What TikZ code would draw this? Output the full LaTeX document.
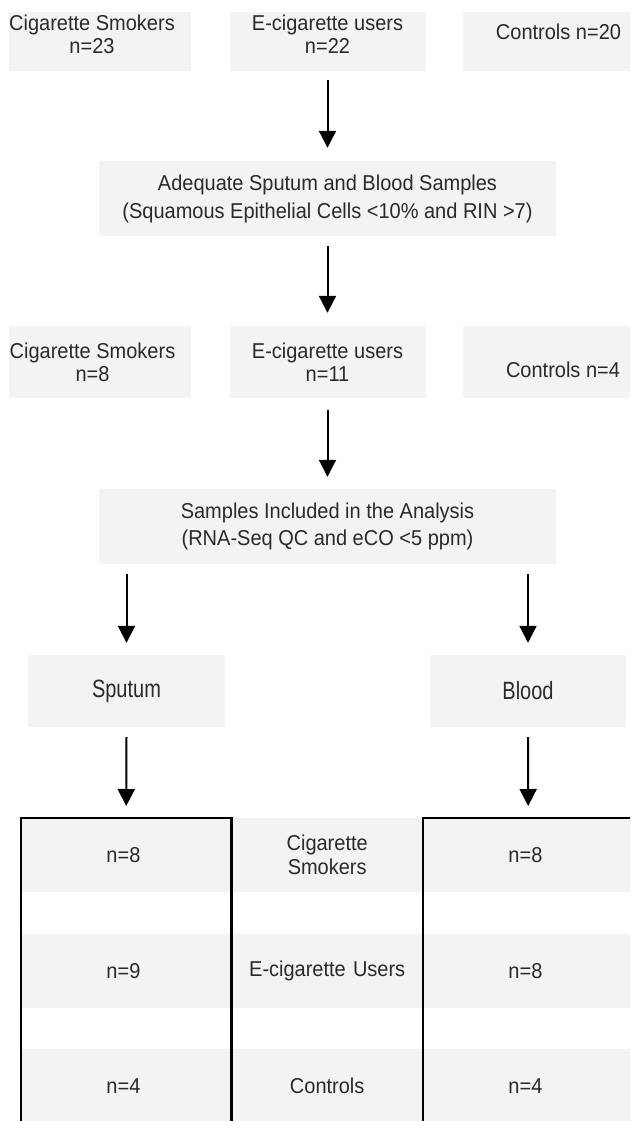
\documentclass[tikz,border=0pt]{standalone}
\usepackage{fontspec}
\setmainfont{Liberation Sans}[FakeStretch=0.93]
\newfontfamily\tallfont{Liberation Sans}[FakeStretch=0.8]
\usepackage{xcolor}
\usepackage{tikz}
\usetikzlibrary{matrix,arrows.meta}

\definecolor{boxgrey}{HTML}{F3F3F3}
\definecolor{inkgrey}{HTML}{2A2A2A}

\begin{document}
\begin{tikzpicture}[x=1pt, y=-1pt,
		box/.style={fill=boxgrey, inner sep=0pt, text=inkgrey, align=center, font=\fontsize{21.5}{23}\selectfont},
		lbl/.style={inner sep=0pt, text=inkgrey, align=center, font=\fontsize{21.5}{23}\selectfont},
		arr/.style={line width=2pt, -{Triangle[width=17pt,length=17pt]}},
		outline/.style={line width=2.5pt}]
	\useasboundingbox (0,0) rectangle (630,1121);
	\clip (0,0) rectangle (630,1121);

	% groups recruited
	\node[box, minimum width=182pt, minimum height=59pt] (smkA) at (100,41.5) {};
	\node[lbl] (smkAt) at ([shift={(-8pt,7.5pt)}]smkA.center) {Cigarette Smokers\\n=23};
	\node[box, minimum width=196pt, minimum height=59pt] (ecgA) at (327.5,41.5) {};
	\node[lbl] (ecgAt) at ([yshift=7.5pt]ecgA.center) {E-cigarette users\\n=22};
	\node[box, minimum width=200pt, minimum height=59pt] (ctlA) at (563,41.5) {};
	\node[lbl] (ctlAt) at ([shift={(-4.5pt,10pt)}]ctlA.center) {Controls n=20};

	\node[box, minimum width=457pt, minimum height=75pt, font=\fontsize{21.5}{28}\selectfont] (adeq) at (327.5,198.5)
		{Adequate Sputum and Blood Samples\\(Squamous Epithelial Cells <10\% and RIN >7)};

	% groups with adequate samples
	\node[box, minimum width=182pt, minimum height=72pt] (smkB) at (100,362) {};
	\node[lbl] (smkBt) at ([xshift=-7.5pt]smkB.center) {Cigarette Smokers\\n=8};
	\node[box, minimum width=196pt, minimum height=72pt] (ecgB) at (327.5,362) {E-cigarette users\\n=11};
	\node[box, minimum width=200pt, minimum height=72pt] (ctlB) at (563,362) {};
	\node[lbl] (ctlBt) at ([yshift=-8pt]ctlB.center) {Controls n=4};

	\node[box, minimum width=457pt, minimum height=75pt, font=\fontsize{21.5}{26.7}\selectfont] (samp) at (327.5,526.5)
		{Samples Included in the Analysis\\(RNA-Seq QC and eCO <5 ppm)};

	\node[box, minimum width=197pt, minimum height=72pt, font=\tallfont\fontsize{25}{28}\selectfont] (sput) at (126.5,691) {Sputum};
	\node[box, minimum width=196pt, minimum height=72pt, font=\tallfont\fontsize{25}{28}\selectfont] (blood) at (528,691) {Blood};

	\matrix (tab) [matrix of nodes, anchor=north west, inner sep=0pt, row sep=41.5pt, column sep=0pt,
		nodes={fill=boxgrey, text=inkgrey, align=center, anchor=center, inner sep=0pt, minimum height=74pt, font=\fontsize{21.5}{24}\selectfont},
		column 1/.style={nodes={minimum width=210pt}},
		column 2/.style={nodes={text width=192pt}},
		column 3/.style={nodes={minimum width=210pt}}] at (21,818) {
		n=8 & {Cigarette\\Smokers} & n=8 \\
		n=9 & E-cigarette Users & n=8 \\
		n=4 & Controls & n=4 \\
	};
	\draw[outline] ([yshift=-30pt]tab-3-1.south west) -- (tab-1-1.north west) -- (tab-1-1.north east) -- ([yshift=-30pt]tab-3-1.south east);
	\draw[outline] ([yshift=-30pt]tab-3-3.south west) -- (tab-1-3.north west) -- (tab-1-3.north east) -- ([yshift=-30pt]tab-3-3.south east);

	% arrows
	\draw[arr] ([yshift=-9pt]ecgA.south) -- ([yshift=13pt]adeq.north);
	\draw[arr] ([yshift=-10pt]adeq.south) -- ([yshift=13pt]ecgB.north);
	\draw[arr] ([yshift=-12pt]ecgB.south) -- ([yshift=12pt]samp.north);
	\draw[arr] ([yshift=-10pt]sput.north |- samp.south) -- ([yshift=12pt]sput.north);
	\draw[arr] ([yshift=-10pt]blood.north |- samp.south) -- ([yshift=12pt]blood.north);
	\draw[arr] ([yshift=-10pt]sput.south) -- ([yshift=12pt]tab-1-1.north);
	\draw[arr] ([yshift=-10pt]blood.south) -- ([yshift=12pt]tab-1-3.north);
\end{tikzpicture}
\end{document}
